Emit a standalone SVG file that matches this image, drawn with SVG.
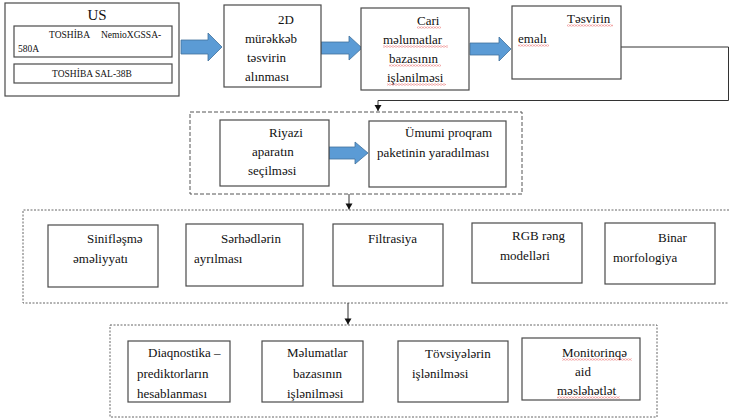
<svg xmlns="http://www.w3.org/2000/svg" width="729" height="420" viewBox="0 0 729 420">
<style>
.box{fill:#fff;stroke:#4a4a4a;stroke-width:1.2}
text{font-family:'Liberation Serif','DejaVu Serif','Times New Roman',serif;fill:#111;font-weight:normal}
.t{font-size:13px}
.ts{font-size:9.5px}
.big{font-size:15px}
.barrow{fill:#5b9bd5;stroke:#41719c;stroke-width:0.8}
.dash{fill:none;stroke:#555;stroke-width:1;stroke-dasharray:4 2}
.dot{fill:none;stroke:#666;stroke-width:1;stroke-dasharray:2 1.5}
.conn{fill:none;stroke:#333;stroke-width:1}
</style>
<defs>
<marker id="ahd" markerWidth="8" markerHeight="8" refX="4" refY="7" orient="0" markerUnits="userSpaceOnUse" viewBox="0 0 8 8">
<path d="M0.5 1 L7.5 1 L4 7 Z" fill="#111"/>
</marker>
<pattern id="wavy" width="3" height="2" patternUnits="userSpaceOnUse">
<path d="M0 1.6 L1.5 0.4 L3 1.6" stroke="#e03030" stroke-width="0.6" fill="none"/>
</pattern>
</defs>

<!-- containers -->
<rect class="dash" x="190" y="112" width="332" height="82"/>
<path class="dot" d="M729 210 L23 210 L23 303 L729 303"/>
<rect class="dot" x="110" y="325" width="547" height="92"/>

<g id="connectors">
<path class="barrow" d="M181 40 L208 40 L208 33 L222 47 L208 61 L208 54 L181 54 Z"/>
<path class="barrow" d="M321 42 L349 42 L349 36 L362 48 L349 60 L349 54 L321 54 Z"/>
<path class="barrow" d="M470 43 L499 43 L499 37 L511 49 L499 61 L499 55 L470 55 Z"/>
<path class="barrow" d="M329 147 L355 147 L355 142 L368 153 L355 164 L355 159 L329 159 Z"/>
<path class="conn" d="M621 47 L728.5 47 L728.5 100.5 L378 100.5 L378 111" marker-end="url(#ahd)"/>
<path class="conn" d="M349 194 L349 209.5" marker-end="url(#ahd)"/>
<path class="conn" d="M348 303 L348 324.5" marker-end="url(#ahd)"/>
</g>

<g id="us">
<rect class="box" x="5" y="3" width="174" height="93"/>
<text class="big" x="97" y="20" text-anchor="middle">US</text>
<rect class="box" x="14" y="26" width="158" height="31"/>
<text class="ts" x="49" y="38">TOSHİBA</text>
<text class="ts" x="101" y="38">NemioXGSSA-</text>
<text class="ts" x="18" y="52">580A</text>
<rect class="box" x="14" y="64" width="158" height="19"/>
<text class="ts" x="92" y="77" text-anchor="middle">TOSHİBA SAL-38B</text>
</g>

<g id="n2d">
<rect class="box" x="224" y="5" width="97" height="82"/>
<text class="t" x="278" y="24">2D</text>
<text class="t" x="245" y="43">mürəkkəb</text>
<text class="t" x="247" y="62">təsvirin</text>
<text class="t" x="245" y="81">alınması</text>
</g>

<g id="cari">
<rect class="box" x="361" y="8" width="108" height="82"/>
<text class="t" x="417" y="25">Cari</text>
<text class="t" x="383" y="44">məlumatlar</text>
<text class="t" x="389" y="63">bazasının</text>
<text class="t" x="387" y="82">işlənilməsi</text>
<rect x="417" y="26.5" width="24" height="2" fill="url(#wavy)"/>
<rect x="383" y="45.5" width="65" height="2" fill="url(#wavy)"/>
<rect x="389" y="64.5" width="52" height="2" fill="url(#wavy)"/>
<rect x="387" y="83.5" width="59" height="2" fill="url(#wavy)"/>
</g>

<g id="tesvirin">
<rect class="box" x="512" y="6" width="109" height="73"/>
<text class="t" x="567" y="23">Təsvirin</text>
<text class="t" x="518" y="43">emalı</text>
<rect x="567" y="24.5" width="46" height="2" fill="url(#wavy)"/>
<rect x="518" y="44.5" width="31" height="2" fill="url(#wavy)"/>
</g>

<g id="riyazi">
<rect class="box" x="220" y="120" width="109" height="66"/>
<text class="t" x="269" y="137">Riyazi</text>
<text class="t" x="252" y="156">aparatın</text>
<text class="t" x="248" y="175">seçilməsi</text>
</g>

<g id="umumi">
<rect class="box" x="369" y="121" width="137" height="66"/>
<text class="t" x="405" y="137">Ümumi proqram</text>
<text class="t" x="377" y="157">paketinin yaradılması</text>
</g>

<g id="sinif">
<rect class="box" x="48" y="225" width="110" height="62"/>
<text class="t" x="87" y="243">Sinifləşmə</text>
<text class="t" x="73" y="263">əməliyyatı</text>
</g>
<g id="serhed">
<rect class="box" x="186" y="224" width="117" height="62"/>
<text class="t" x="221" y="243">Sərhədlərin</text>
<text class="t" x="194" y="263">ayrılması</text>
</g>
<g id="filtr">
<rect class="box" x="333" y="224" width="110" height="62"/>
<text class="t" x="368" y="243">Filtrasiya</text>
</g>
<g id="rgb">
<rect class="box" x="472" y="223" width="110" height="60"/>
<text class="t" x="512" y="240">RGB rəng</text>
<text class="t" x="500" y="260">modelləri</text>
</g>
<g id="binar">
<rect class="box" x="605" y="223" width="110" height="61"/>
<text class="t" x="658" y="242">Binar</text>
<text class="t" x="613" y="262">morfologiya</text>
</g>

<g id="diaq">
<rect class="box" x="128" y="341" width="102" height="61"/>
<text class="t" x="148" y="357">Diaqnostika –</text>
<text class="t" x="137" y="378">prediktorların</text>
<text class="t" x="137" y="398">hesablanması</text>
</g>
<g id="melumat">
<rect class="box" x="262" y="341" width="101" height="61"/>
<text class="t" x="287" y="357">Məlumatlar</text>
<text class="t" x="293" y="378">bazasının</text>
<text class="t" x="287" y="398">işlənilməsi</text>
</g>
<g id="tovsiye">
<rect class="box" x="398" y="341" width="110" height="61"/>
<text class="t" x="425" y="358">Tövsiyələrin</text>
<text class="t" x="412" y="378">işlənilməsi</text>
</g>
<g id="monitor">
<rect class="box" x="522" y="338" width="118" height="62"/>
<text class="t" x="562" y="357">Monitorinqə</text>
<text class="t" x="575" y="376">aid</text>
<text class="t" x="557" y="395">məsləhətlət</text>
<rect x="562" y="358.5" width="70" height="2" fill="url(#wavy)"/>
<rect x="557" y="396.5" width="63" height="2" fill="url(#wavy)"/>
</g>
</svg>
